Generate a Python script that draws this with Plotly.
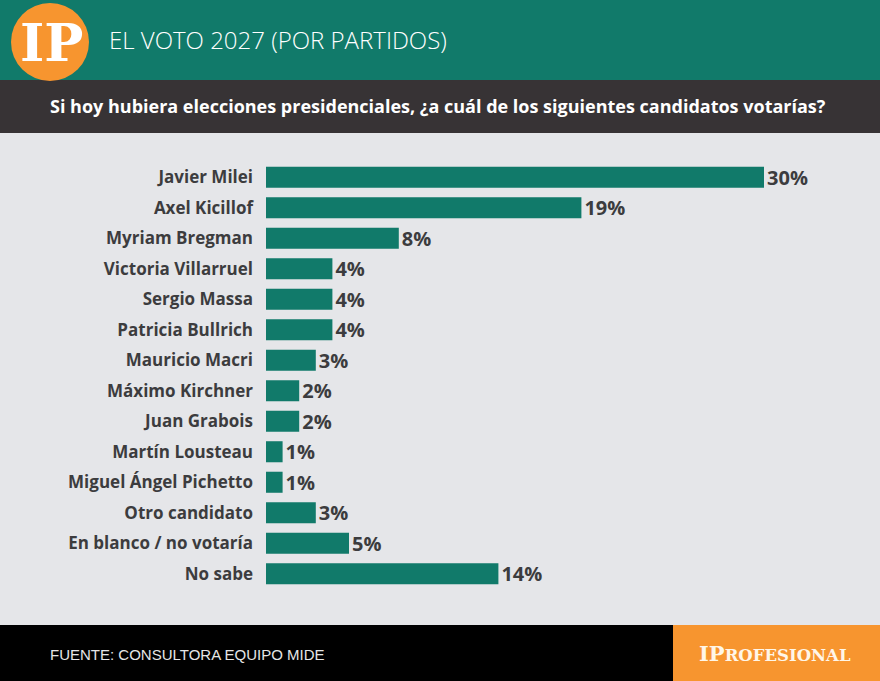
import plotly.graph_objects as go

candidates = ["Javier Milei", "Axel Kicillof", "Myriam Bregman", "Victoria Villarruel",
              "Sergio Massa", "Patricia Bullrich", "Mauricio Macri", "Máximo Kirchner",
              "Juan Grabois", "Martín Lousteau", "Miguel Ángel Pichetto", "Otro candidato",
              "En blanco / no votaría", "No sabe"]
values = [30, 19, 8, 4, 4, 4, 3, 2, 2, 1, 1, 3, 5, 14]
value_labels = [f"{v}%" for v in values]

title_text = "EL VOTO 2027 (POR PARTIDOS)"
subtitle_text = "Si hoy hubiera elecciones presidenciales, ¿a cuál de los siguientes candidatos votarías?"
source_text = "FUENTE: CONSULTORA EQUIPO MIDE"

TEAL = "#117a6a"
DARK = "#373335"
BG = "#e5e6e9"
ORANGE = "#f7952f"
TXT = "#3c3c3e"

W, H = 880, 681
ML, MR, MT, MB = 266, 33, 162, 92
PW, PH = W - ML - MR, H - MT - MB


def px(x):
    return (x - ML) / PW


def py(y):
    return (H - MB - y) / PH


fig = go.Figure(go.Bar(
    x=values, y=candidates, orientation="h",
    marker=dict(color=TEAL, line=dict(width=0)),
    width=0.69,
    text=value_labels, textposition="outside", cliponaxis=False,
    constraintext="none",
    textfont=dict(family="Open Sans", size=20, color=TXT, weight="bold"),
    hoverinfo="skip",
))

shapes = [
    dict(type="rect", xref="paper", yref="paper", x0=px(0), x1=px(W), y0=py(0), y1=py(80),
         fillcolor=TEAL, line=dict(width=0), layer="below"),
    dict(type="rect", xref="paper", yref="paper", x0=px(0), x1=px(W), y0=py(80), y1=py(133),
         fillcolor=DARK, line=dict(width=0), layer="below"),
    dict(type="rect", xref="paper", yref="paper", x0=px(0), x1=px(W), y0=py(625), y1=py(H),
         fillcolor="#000000", line=dict(width=0), layer="below"),
    dict(type="rect", xref="paper", yref="paper", x0=px(673), x1=px(W), y0=py(625), y1=py(H),
         fillcolor=ORANGE, line=dict(width=0), layer="below"),
    dict(type="circle", xref="paper", yref="paper", x0=px(11), x1=px(89), y0=py(3), y1=py(81),
         fillcolor=ORANGE, line=dict(width=0), layer="below"),
]

annotations = [
    dict(text=title_text, xref="paper", yref="paper", x=px(107), y=py(40),
         xanchor="left", yanchor="middle", showarrow=False,
         font=dict(family="Open Sans", size=24, color="white", weight=300)),
    dict(text="IP", xref="paper", yref="paper", x=px(51), y=py(43),
         xanchor="center", yanchor="middle", showarrow=False,
         font=dict(family="DejaVu Serif", size=52, color="white", weight="bold")),
    dict(text=subtitle_text, xref="paper", yref="paper", x=px(438), y=py(106),
         xanchor="center", yanchor="middle", showarrow=False,
         font=dict(family="Open Sans", size=18, color="white", weight="bold")),
    dict(text=source_text, xref="paper", yref="paper", x=px(48), y=py(654),
         xanchor="left", yanchor="middle", showarrow=False,
         font=dict(family="Liberation Sans", size=15, color="#e6e6e6")),
    dict(text="<span style='font-size:21px'>I</span><span style='font-size:21px'>P</span>ROFESIONAL",
         xref="paper", yref="paper", x=px(775), y=py(653),
         xanchor="center", yanchor="middle", showarrow=False,
         font=dict(family="DejaVu Serif", size=16.5, color="#fff6e8", weight="bold")),
]

fig.update_layout(
    width=W, height=H,
    margin=dict(l=ML, r=MR, t=MT, b=MB, pad=0),
    paper_bgcolor=BG, plot_bgcolor=BG,
    showlegend=False,
    shapes=shapes, annotations=annotations,
    bargap=0.31,
    xaxis=dict(range=[0, 35], visible=False, fixedrange=True),
    yaxis=dict(autorange="reversed", showgrid=False, showline=False, zeroline=False,
               ticks="", ticklabelstandoff=12,
               tickfont=dict(family="Open Sans", size=17, color=TXT, weight="bold")),
)

fig.write_html("out.html", config={"displayModeBar": False})
